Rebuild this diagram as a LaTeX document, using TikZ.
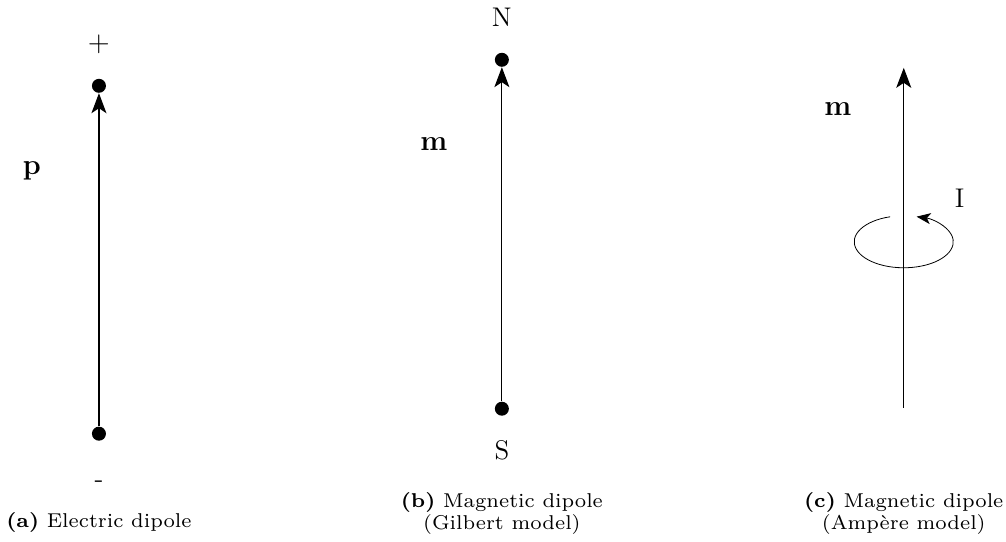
\documentclass[tikz,border=0pt]{standalone}
\usepackage{tikz}
\usetikzlibrary{arrows.meta,positioning,calc}
\tikzset{
 charge/.style={circle, fill=black, inner sep=0pt, minimum size=0.246cm},
 pole/.style={inner sep=0pt, font=\fontsize{13.5}{16}\selectfont},
 vec/.style={inner sep=0pt, font=\fontsize{13.5}{16}\selectfont},
 dipole/.style={-{Stealth[length=10pt,width=7.5pt,inset=2.5pt]}, semithick},
 current/.style={-{Stealth[length=7pt,width=5.5pt,inset=1.8pt]}, thin},
 caption/.style={anchor=base, align=center, inner sep=0pt, scale=1.43, transform shape,
   font=\fontsize{7}{7.9}\selectfont}
}

\begin{document}
\begin{tikzpicture}
\useasboundingbox (0,0) rectangle (17.68,9.52);
% (a) electric dipole
\node[charge] (plus) at (1.739,8.012) {};
\node[charge] (minus) at (1.739,1.898) {};
\node[pole,above=0.42cm of plus] (plussign) {$+$};
\node[pole,below=0.70cm of minus] (minussign) {-};
\draw[dipole] (minus) -- (plus);
\node[vec] (p) at (0.562,6.52) {$\mathbf{p}$};
\node[caption] (capa) at (1.739,0.246) {\textbf{(a)} Electric dipole};
% (b) Gilbert model
\node[charge] (north) at (8.820,8.469) {};
\node[charge] (south) at (8.820,2.337) {};
\node[pole,above=0.44cm of north] (nlabel) {N};
\node[pole,below=0.43cm of south] (slabel) {S};
\draw[dipole] (south) -- (north);
\node[vec] (mb) at (7.625,6.98) {$\mathbf{m}$};
\node[caption] (capb) at (8.820,0.211) {\textbf{(b)} Magnetic dipole\\(Gilbert model)};
% (c) Ampere model
\coordinate (loopbot) at (15.883,2.354);
\coordinate (looptop) at (15.883,8.328);
\coordinate (loopctr) at (15.883,5.271);
\draw[dipole] (loopbot) -- (looptop);
\draw[current] ($(loopctr)+(106:0.870 and 0.457)$) arc[start angle=106, end angle=435, x radius=0.870, y radius=0.457];
\node[vec] (mc) at (14.724,7.60) {$\mathbf{m}$};
\node[pole] (I) at (16.867,6.03) {I};
\node[caption] (capc) at (15.883,0.211) {\textbf{(c)} Magnetic dipole\\(Amp\`ere model)};
\end{tikzpicture}
\end{document}
